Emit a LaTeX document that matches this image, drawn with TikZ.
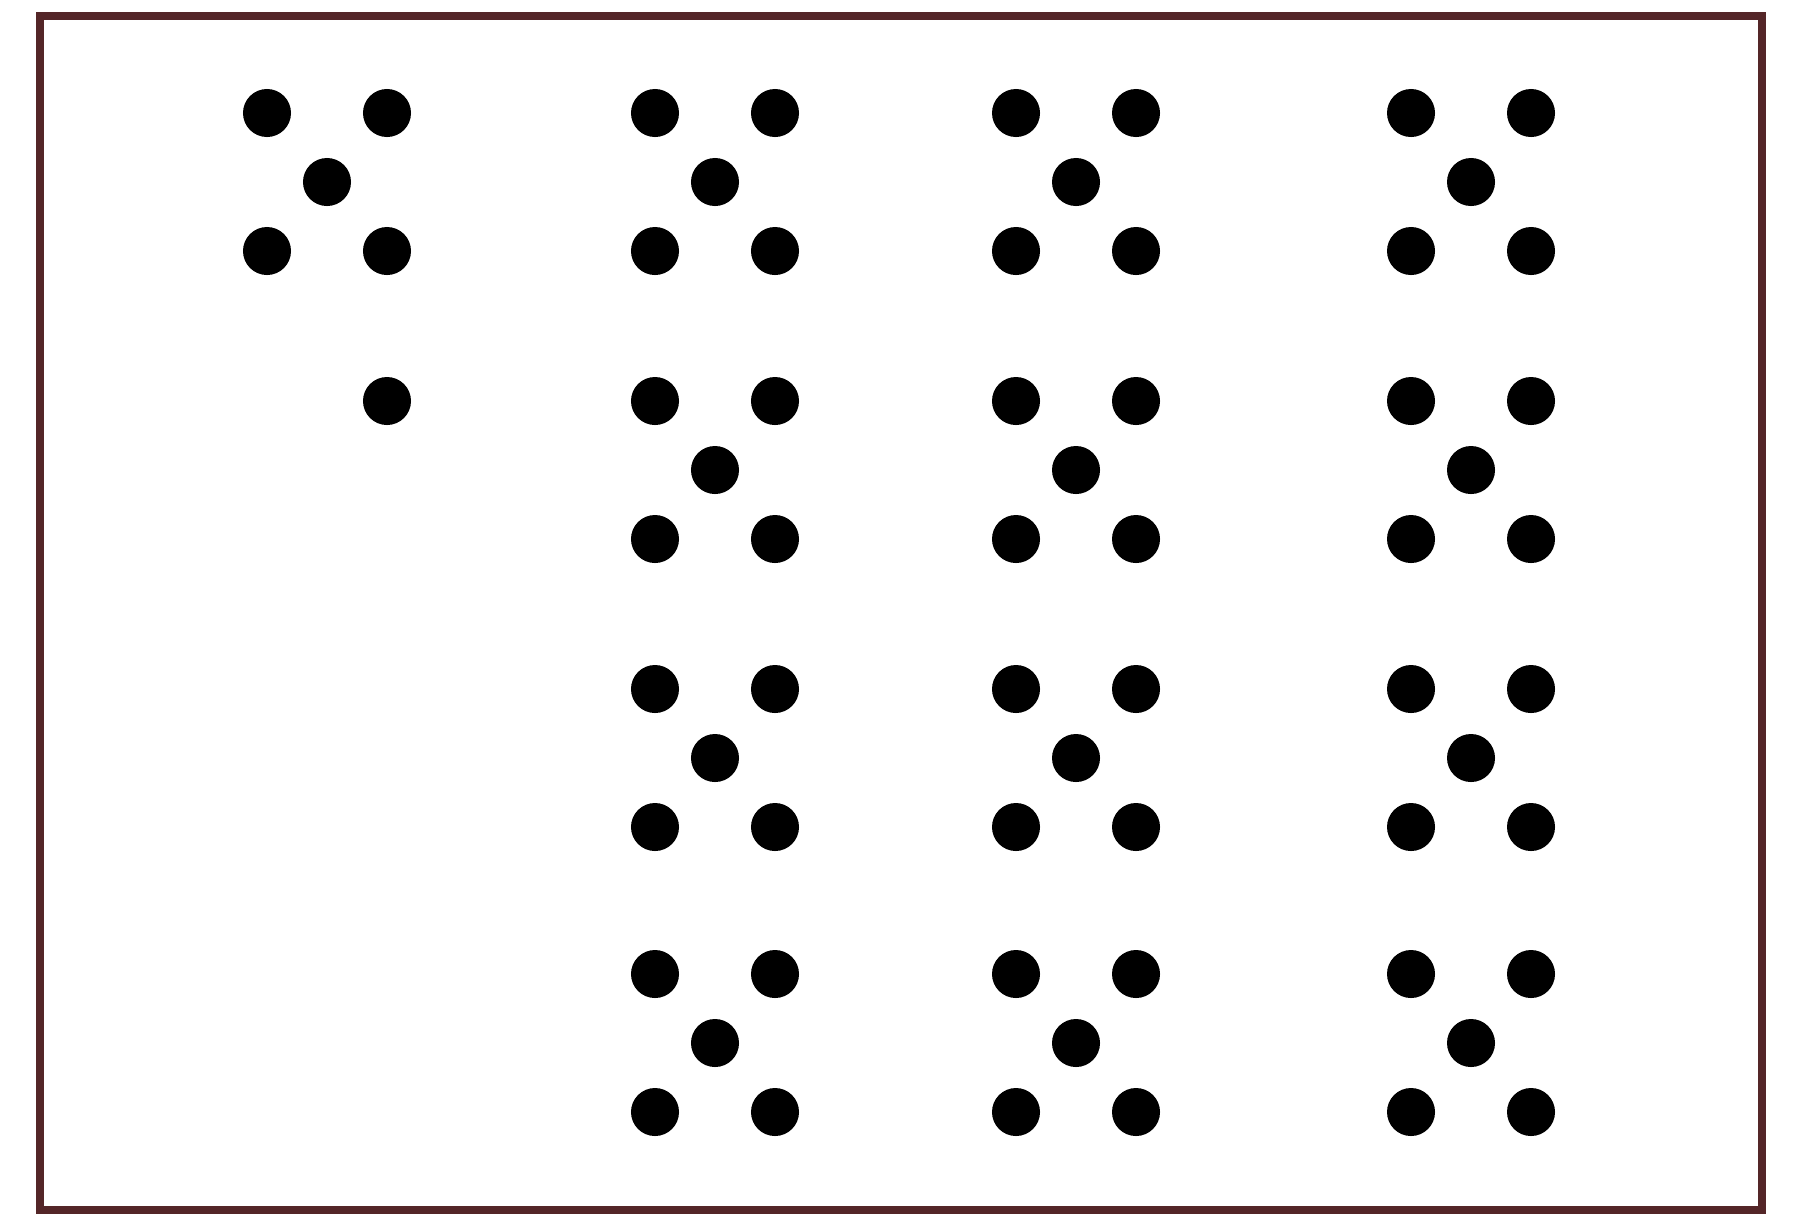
\documentclass[tikz,border=0pt]{standalone}
\usepackage{tikz}
\usepackage{xcolor}
\definecolor{frameC}{RGB}{84, 38, 40}

\begin{document}
\begin{tikzpicture}[x=0.01cm, y=-0.01cm,
    dot/.style={fill=black},
    frame/.style={line width=2.2pt, frameC}]
  \useasboundingbox (0,0) rectangle (1806,1214);
  \draw[frame] (40,16) rectangle (1762,1210);
  % first column: one group and a single dot
  \foreach \dx/\dy in {-60/-69, 60/-69, 0/0, -60/69, 60/69}
    \fill[dot] (327+\dx,182+\dy) circle[radius=0.24cm];
  \fill[dot] (387,401) circle[radius=0.24cm];
  % three columns of four groups
  \foreach \cx in {715, 1076, 1471}
    \foreach \cy in {182, 470, 758, 1043}
      \foreach \dx/\dy in {-60/-69, 60/-69, 0/0, -60/69, 60/69}
        \fill[dot] (\cx+\dx,\cy+\dy) circle[radius=0.24cm];
\end{tikzpicture}
\end{document}
